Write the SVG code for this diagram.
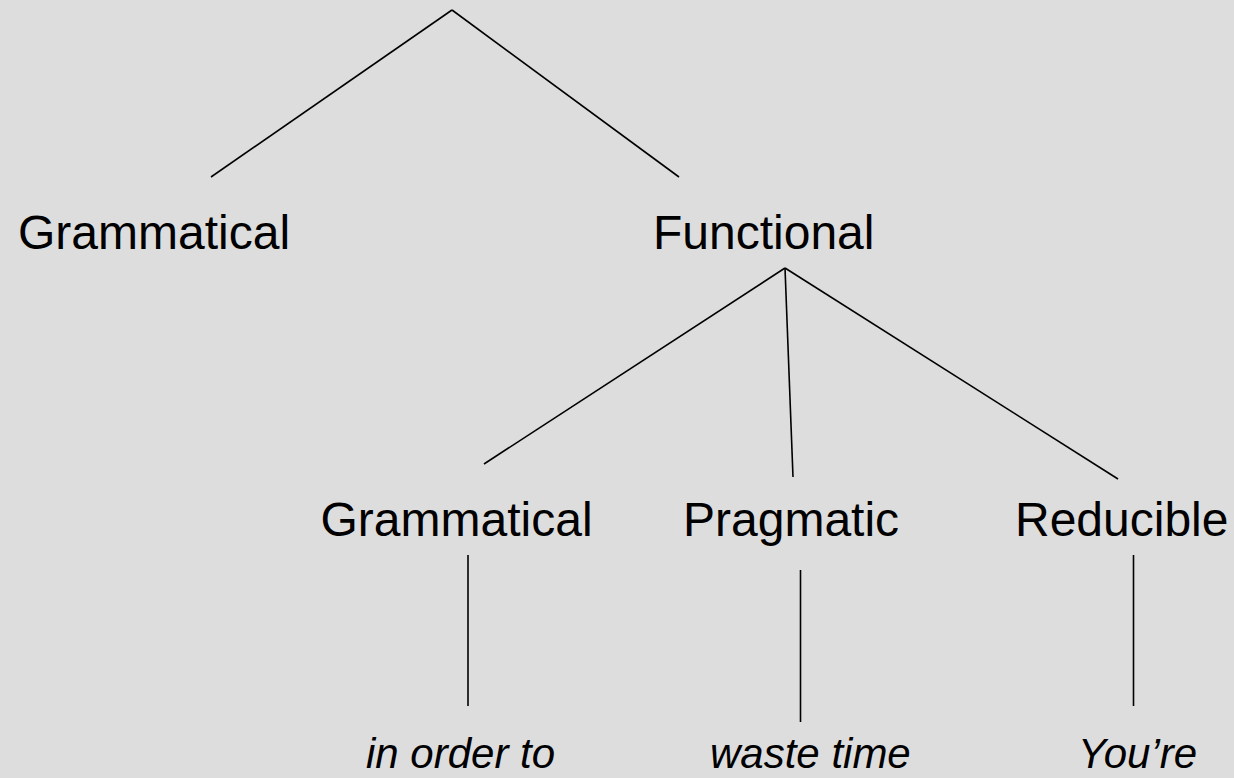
<svg xmlns="http://www.w3.org/2000/svg" width="1234" height="778" viewBox="0 0 1234 778">
<style>
.lbl{font-family:"Liberation Sans",Arial,sans-serif;font-size:48px;fill:#000}
.ex{font-family:"Liberation Sans",Arial,sans-serif;font-size:42px;font-style:italic;fill:#000}
.ln{stroke:#000;stroke-width:1.6;fill:none}
</style>
<rect width="1234" height="778" fill="#dddddd"/>
<g id="connectors">
<line class="ln" x1="452" y1="10" x2="211" y2="177"/>
<line class="ln" x1="452" y1="10" x2="679" y2="177"/>
<line class="ln" x1="785" y1="268" x2="484" y2="464"/>
<line class="ln" x1="785" y1="268" x2="793" y2="477"/>
<line class="ln" x1="785" y1="268" x2="1118" y2="479"/>
<line class="ln" x1="468" y1="555" x2="468" y2="706"/>
<line class="ln" x1="800.5" y1="570" x2="800.5" y2="722"/>
<line class="ln" x1="1133.5" y1="555" x2="1133.5" y2="706" stroke-width="2.2"/>
</g>
<g id="grammatical1"><text class="lbl" x="18" y="249">Grammatical</text></g>
<g id="functional"><text class="lbl" x="653" y="249">Functional</text></g>
<g id="grammatical2"><text class="lbl" x="320.5" y="536">Grammatical</text></g>
<g id="pragmatic"><text class="lbl" x="683" y="536">Pragmatic</text></g>
<g id="reducible"><text class="lbl" x="1015" y="536">Reducible</text></g>
<g id="ex-inorderto"><text class="ex" x="366" y="768">in order to</text></g>
<g id="ex-wastetime"><text class="ex" x="710" y="768">waste time</text></g>
<g id="ex-youre"><text class="ex" x="1078" y="768">You’re</text></g>
</svg>
